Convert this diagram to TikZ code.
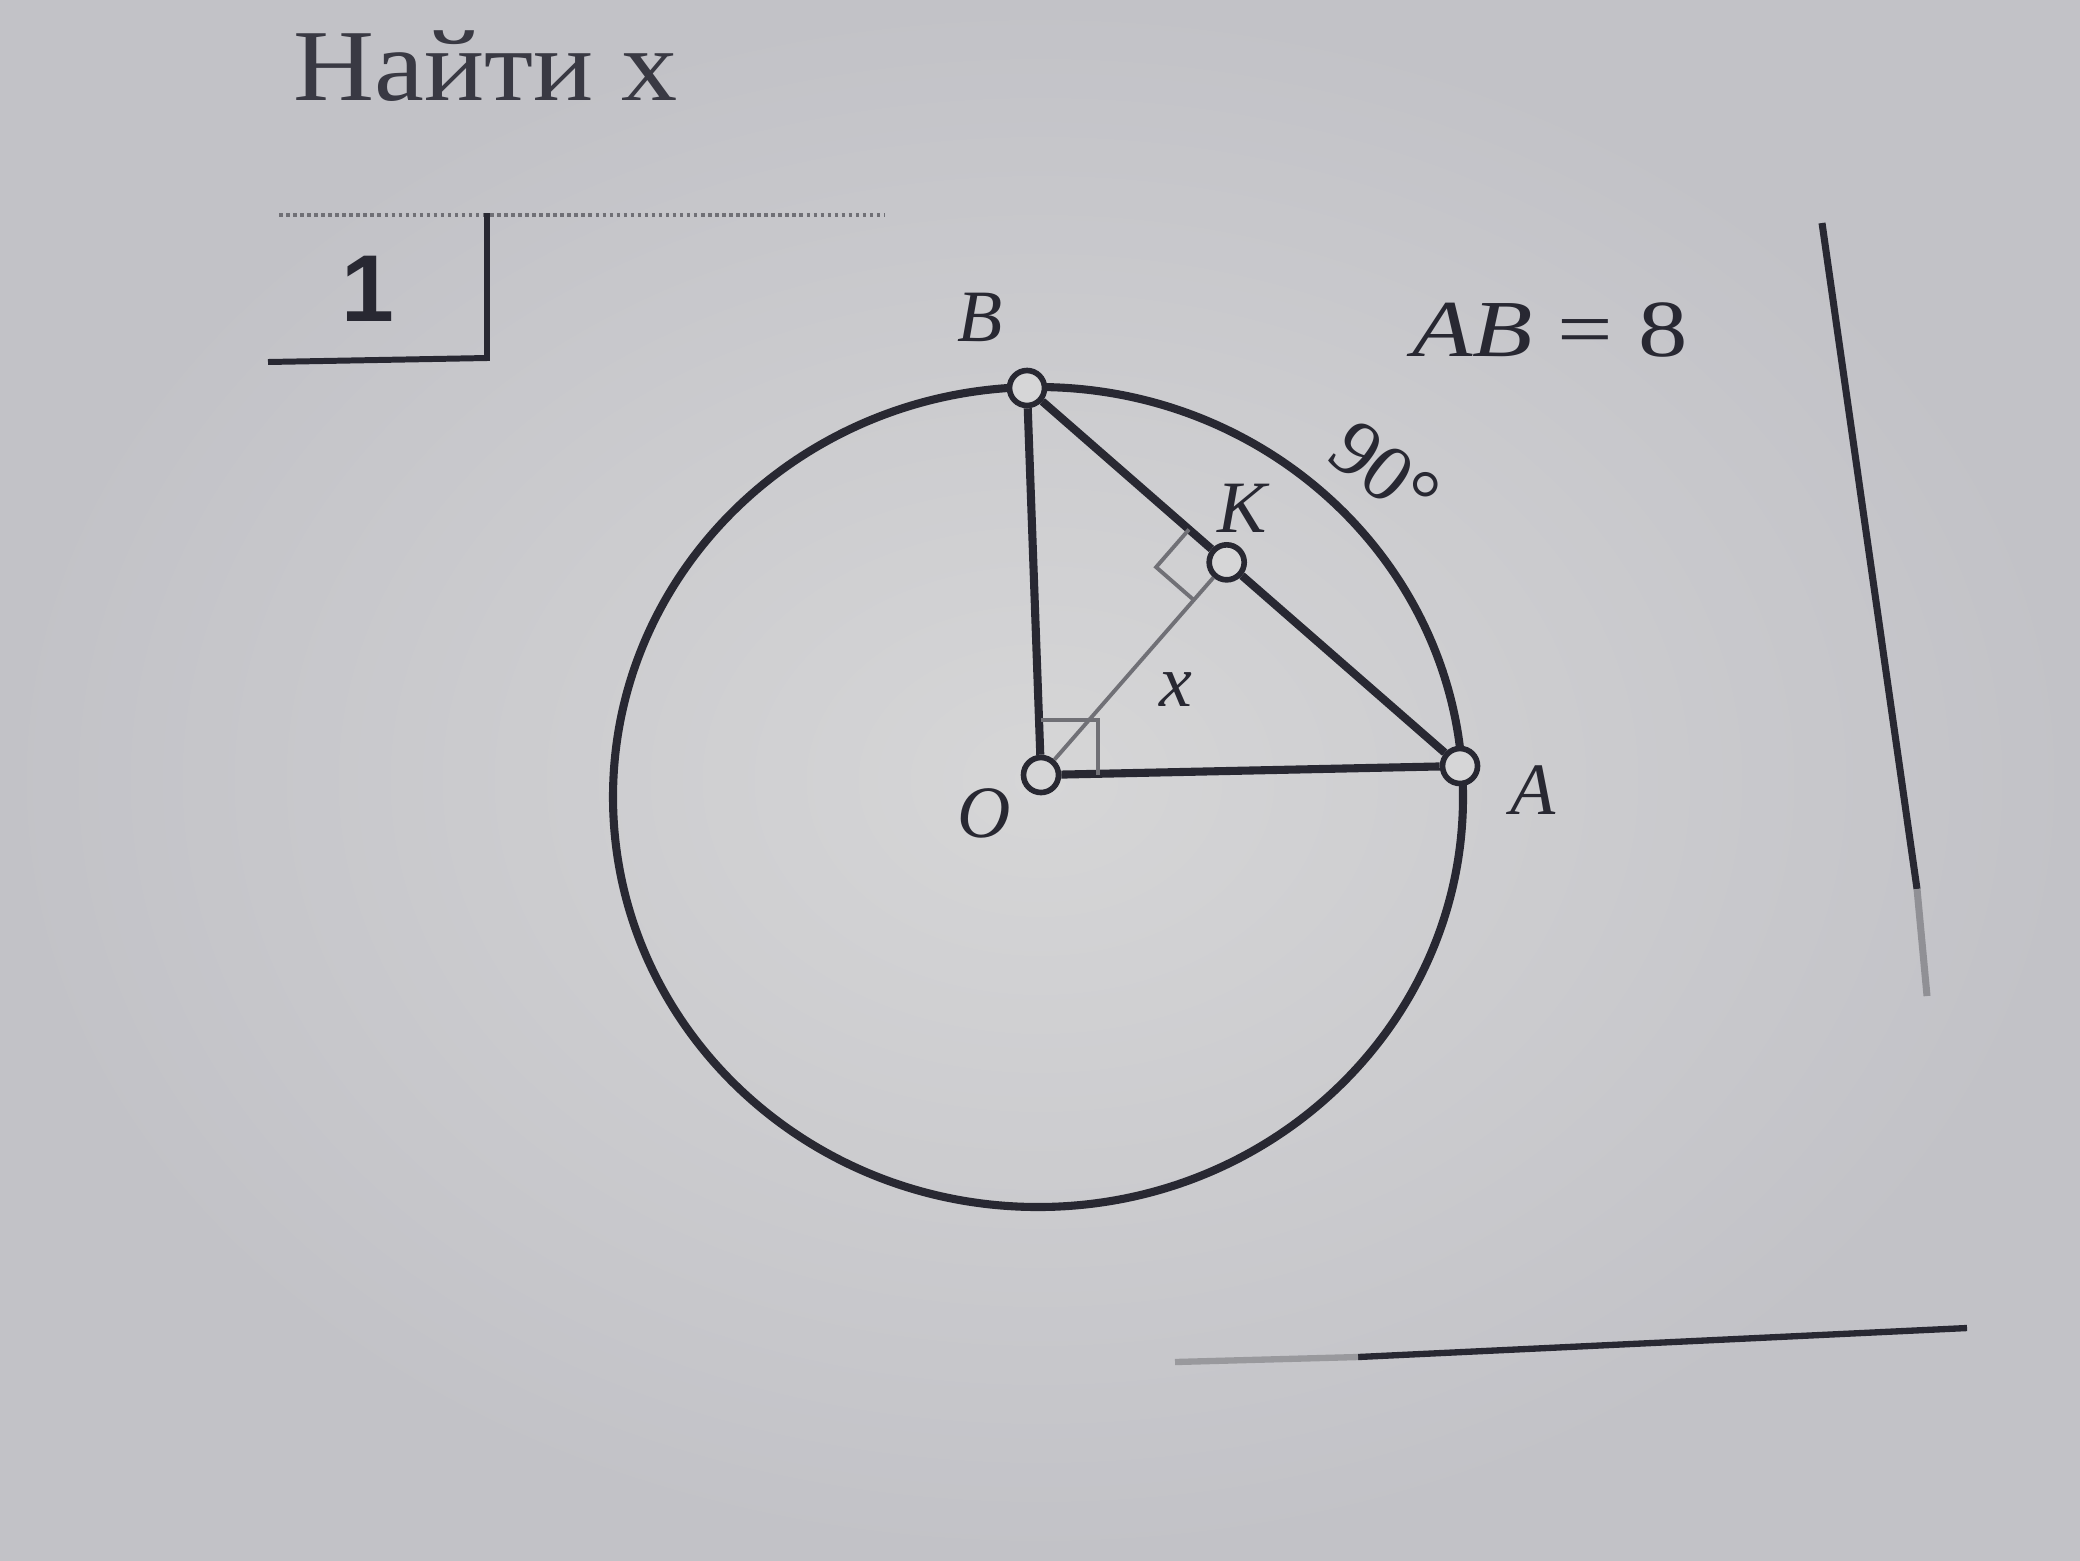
\documentclass[tikz,border=0pt]{standalone}
\usepackage{fontspec}
\setmainfont{Liberation Serif}
\setsansfont{Liberation Sans}
\usetikzlibrary{positioning,calc}

\definecolor{paper}{RGB}{214,214,215}
\definecolor{paperdark}{RGB}{194,194,199}
\definecolor{ink}{RGB}{40,40,50}
\definecolor{pencil}{RGB}{112,112,118}

\tikzset{
  pt/.style={circle, draw=ink, fill=paper, line width=1.6pt, minimum size=0.35cm, inner sep=0pt},
  side/.style={draw=ink, line width=2.3pt},
  guide/.style={draw=pencil, line width=1.1pt},
  lbl/.style={text=ink, inner sep=0pt, on grid, font=\fontsize{21}{25}\selectfont\itshape},
  upright/.style={font=\fontsize{23}{27}\selectfont\upshape},
}

\begin{document}
\begin{tikzpicture}[x=0.01cm, y=-0.01cm]

    % paper
    \shade[inner color=paper, outer color=paperdark] (0,0) rectangle (2080,1560);
    \useasboundingbox (0,0) rectangle (2080,1560);

    % heading and number box
    \node[anchor=base west, inner sep=0pt, xscale=1.1, text=ink!90!paper, font=\fontsize{29}{34}\selectfont] (title) at (293,100) {Найти x};
    \draw[pencil, line width=1pt, densely dotted] (279,215) -- (884,215);
    \draw[ink, line width=1.7pt] (487,213) -- (487,358) -- (268,362);
    \node[text=ink, inner sep=0pt, font=\fontsize{27}{32}\selectfont\sffamily\bfseries] (num) at (368,289) {1};

    % circle
    \draw[side] (1038,797) ellipse [x radius=425, y radius=410];

    %nodes
    \node[pt] (O) at (1041,775) {};
    \node[pt] (A) at (1460,766) {};
    \node[pt] (B) at (1027,388) {};
    \node[pt] (K) at ($(A)!(O)!(B)$) {};
    \coordinate (mid) at ($(O)!0.5!(K)$);

    % labels
    \node[lbl, above left=0.71cm and 0.47cm of B] (lB) {B};
    \node[lbl, below right=0.24cm and 0.73cm of A] (lA) {A};
    \node[lbl, below left=0.38cm and 0.57cm of O] (lO) {O};
    \node[lbl, above right=0.54cm and 0.15cm of K] (lK) {K};
    \node[lbl, below right=0.03cm and 0.25cm of mid] (lx) {x};
    \node[lbl, upright, rotate=-38] (arc) at (1385,472) {90°};
    \node[lbl, font=\fontsize{23}{27}\selectfont\itshape, xscale=1.22] (given) at (1550,330) {AB \upshape= 8};

    % edges
    \draw[side] (O) -- (B);
    \draw[side] (O) -- (A);
    \draw[side] (B) -- (K) -- (A);
    \draw[guide] (O) -- (K);

    % right angles
    \draw[guide] ($(O)+(0,-55)$) -| ($(O)+(57,0)$);
    \coordinate (k1) at ($(K)!0.5cm!(O)$);
    \coordinate (k2) at ($(K)!0.5cm!(B)$);
    \draw[guide] (k1) -- ($(k1)+(k2)-(K)$) -- (k2);

    % frame
    \draw[ink, line width=2pt] (1822,223) -- (1917,889);
    \draw[ink!40!paper, line width=2pt] (1917,889) -- (1927,996);
    \draw[ink, line width=1.8pt] (1967,1328) -- (1358,1357);
    \draw[ink!35!paper, line width=1.8pt] (1358,1357) -- (1175,1362);
\end{tikzpicture}
\end{document}
